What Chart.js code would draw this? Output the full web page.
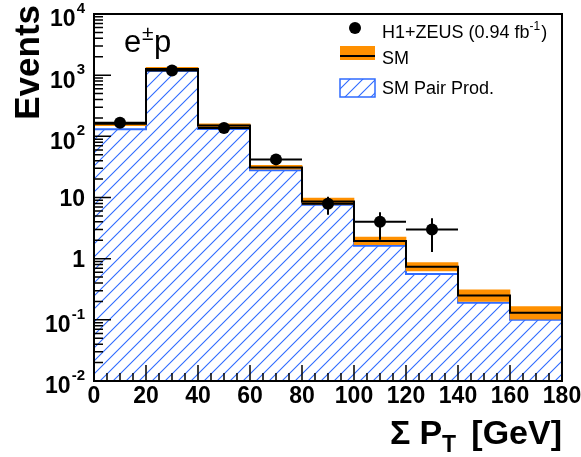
<!DOCTYPE html>
<html>
<head>
<meta charset="utf-8">
<script src="https://cdn.jsdelivr.net/npm/chart.js@4.4.1/dist/chart.umd.min.js"></script>
<style>
  html, body { margin: 0; padding: 0; background: #fff; }
</style>
</head>
<body>
<canvas id="c" width="581" height="457"></canvas>
<script>
// histogram binning (GeV)
const binEdges = [0, 20, 40, 60, 80, 100, 120, 140, 160, 180];
const binCenters = [10, 30, 50, 70, 90, 110, 130, 150, 170];

// SM total prediction and its uncertainty band
const smValues = [160, 1260, 150, 31, 8.6, 1.95, 0.74, 0.25, 0.13];
const smLow    = [150, 1190, 141, 29, 7.8, 1.70, 0.63, 0.20, 0.103];
const smHigh   = [170, 1340, 160, 33.5, 9.8, 2.25, 0.86, 0.31, 0.165];

// SM pair production component
const pairValues = [131, 1185, 132, 28, 7.6, 1.62, 0.56, 0.19, 0.10];

// H1+ZEUS data
const dataCenters = [10, 30, 50, 70, 90, 110, 130];
const dataValues  = [167, 1190, 137, 42, 7.9, 4.0, 3.0];
const dataLow     = [154, 1156, 125, 35.5, 5.2, 2.03, 1.28];
const dataHigh    = [180, 1224, 149, 48.5, 10.3, 5.75, 4.6];

// axis ticks
const xTickValues = [0, 20, 40, 60, 80, 100, 120, 140, 160, 180];
const xTickLabels = ['0', '20', '40', '60', '80', '100', '120', '140', '160', '180'];
const yDecades = [0.01, 0.1, 1, 10, 100, 1000, 10000];
const yTickLabels = [['10', '-2'], ['10', '-1'], ['1', ''], ['10', ''], ['10', '2'], ['10', '3'], ['10', '4']];

const ORANGE = '#ff9000';
const BLUE = '#2f6bff';
const FONT = 'Liberation Sans, Arial, Helvetica, sans-serif';

function stepPoints(vals) {
  return binEdges.map((x, i) => ({ x, y: vals[Math.min(i, vals.length - 1)] }));
}

function hatch(color) {
  const s = 13;
  const c = document.createElement('canvas');
  c.width = s; c.height = s;
  const g = c.getContext('2d');
  g.strokeStyle = color;
  g.lineWidth = 1.1;
  g.beginPath();
  g.moveTo(0, s); g.lineTo(s, 0);
  g.moveTo(-2, 2); g.lineTo(2, -2);
  g.moveTo(s - 2, s + 2); g.lineTo(s + 2, s - 2);
  g.stroke();
  return g.createPattern(c, 'repeat');
}

const hatchFill = hatch(BLUE);

// frame, inner ticks, error bars, labels and legend
const decorations = {
  id: 'decorations',
  afterDatasetsDraw(chart) {
    const { ctx, chartArea: a, scales: { x, y } } = chart;
    ctx.save();

    // data error bars
    ctx.strokeStyle = '#000';
    ctx.lineWidth = 2;
    dataCenters.forEach((c, i) => {
      const px = x.getPixelForValue(c);
      const py = y.getPixelForValue(dataValues[i]);
      ctx.beginPath();
      ctx.moveTo(x.getPixelForValue(c - 10), py);
      ctx.lineTo(x.getPixelForValue(c + 10), py);
      ctx.moveTo(px, y.getPixelForValue(dataLow[i]));
      ctx.lineTo(px, y.getPixelForValue(dataHigh[i]));
      ctx.stroke();
    });

    // ticks on x (major every 20, minor every 5)
    ctx.lineWidth = 1.5;
    ctx.beginPath();
    for (let v = 0; v <= 180; v += 5) {
      const px = x.getPixelForValue(v);
      const len = v % 20 === 0 ? 16 : 8;
      ctx.moveTo(px, a.bottom);
      ctx.lineTo(px, a.bottom - len);
    }
    // ticks on y (decades plus 2..9)
    yDecades.forEach((d, i) => {
      const py = y.getPixelForValue(d);
      ctx.moveTo(a.left, py);
      ctx.lineTo(a.left + 17, py);
      if (i < yDecades.length - 1) {
        for (let m = 2; m <= 9; m++) {
          const pm = y.getPixelForValue(d * m);
          ctx.moveTo(a.left, pm);
          ctx.lineTo(a.left + 9, pm);
        }
      }
    });
    ctx.stroke();

    // frame
    ctx.lineWidth = 2;
    ctx.strokeRect(a.left, a.top, a.right - a.left, a.bottom - a.top);
    ctx.restore();
  },
  afterDraw(chart) {
    const { ctx, scales: { x, y } } = chart;
    ctx.save();
    ctx.fillStyle = '#000';

    // x tick labels
    ctx.font = 'bold 23px ' + FONT;
    ctx.textAlign = 'center';
    ctx.textBaseline = 'alphabetic';
    xTickValues.forEach((v, i) => ctx.fillText(xTickLabels[i], x.getPixelForValue(v), 403));

    // y tick labels with exponents
    yDecades.forEach((d, i) => {
      const [base, exp] = yTickLabels[i];
      const py = y.getPixelForValue(d);
      ctx.font = 'bold 15px ' + FONT;
      const ew = exp ? ctx.measureText(exp).width : 0;
      const right = 85;
      ctx.textAlign = 'right';
      ctx.textBaseline = 'middle';
      if (exp) {
        ctx.fillText(exp, right, py - 5);
        ctx.font = 'bold 23px ' + FONT;
        ctx.fillText(base, right - ew - 1, py + 6);
      } else {
        ctx.font = 'bold 23px ' + FONT;
        ctx.fillText(base, right, py + 2);
      }
    });

    // y title
    ctx.save();
    ctx.translate(39, 5);
    ctx.rotate(-Math.PI / 2);
    ctx.font = 'bold 35px ' + FONT;
    ctx.textAlign = 'right';
    ctx.textBaseline = 'alphabetic';
    ctx.fillText('Events', 0, 0);
    ctx.restore();

    // x title: Σ P_T [GeV]
    ctx.textAlign = 'left';
    ctx.textBaseline = 'alphabetic';
    const big = 'bold 34px ' + FONT, small = 'bold 23px ' + FONT;
    ctx.font = big;
    const sx = 390;
    ctx.fillText('Σ', sx, 444);
    const px0 = sx + ctx.measureText('Σ').width + 9;
    ctx.fillText('P', px0, 444);
    const pw = ctx.measureText('P').width;
    ctx.font = small;
    ctx.fillText('T', px0 + pw, 452);
    ctx.font = big;
    ctx.textAlign = 'right';
    ctx.fillText('[GeV]', 562, 444);

    // e±p label
    ctx.textAlign = 'left';
    ctx.font = '31px ' + FONT;
    ctx.fillText('e', 124, 52);
    ctx.font = '21px ' + FONT;
    ctx.fillText('±', 142, 40);
    ctx.font = '31px ' + FONT;
    ctx.fillText('p', 154, 52);

    // legend
    ctx.font = '18px ' + FONT;
    ctx.textBaseline = 'middle';
    ctx.beginPath();
    ctx.arc(355, 28, 6, 0, Math.PI * 2);
    ctx.fill();
    const t1 = 'H1+ZEUS (0.94 fb';
    ctx.fillText(t1, 382, 33);
    const w1 = ctx.measureText(t1).width;
    ctx.font = '12px ' + FONT;
    ctx.fillText('-1', 382 + w1, 27);
    const w2 = ctx.measureText('-1').width;
    ctx.font = '18px ' + FONT;
    ctx.fillText(')', 383 + w1 + w2, 33);

    ctx.fillStyle = ORANGE;
    ctx.fillRect(340, 46, 35, 14);
    ctx.strokeStyle = '#000';
    ctx.lineWidth = 2;
    ctx.beginPath();
    ctx.moveTo(340, 56); ctx.lineTo(375, 56);
    ctx.stroke();
    ctx.fillStyle = '#000';
    ctx.fillText('SM', 382, 59);

    ctx.fillStyle = hatchFill;
    ctx.fillRect(340, 79, 35, 18);
    ctx.strokeStyle = BLUE;
    ctx.lineWidth = 1.5;
    ctx.strokeRect(340, 79, 35, 18);
    ctx.fillStyle = '#000';
    ctx.fillText('SM Pair Prod.', 382, 89);

    ctx.restore();
  }
};

new Chart(document.getElementById('c'), {
  type: 'line',
  data: {
    datasets: [
      {
        label: 'SM Pair Prod.',
        data: stepPoints(pairValues),
        stepped: 'before',
        borderColor: BLUE,
        borderWidth: 2,
        backgroundColor: hatchFill,
        fill: 'start',
        pointRadius: 0,
        order: 4
      },
      {
        type: 'bar',
        label: 'SM uncertainty',
        data: binCenters.map((c, i) => ({ x: c, y: [smLow[i], smHigh[i]] })),
        backgroundColor: ORANGE,
        borderWidth: 0,
        barPercentage: 1,
        categoryPercentage: 1,
        order: 3
      },
      {
        label: 'SM',
        data: stepPoints(smValues),
        stepped: 'before',
        borderColor: '#000',
        borderWidth: 2,
        fill: false,
        pointRadius: 0,
        order: 2
      },
      {
        label: 'H1+ZEUS (0.94 fb-1)',
        data: dataCenters.map((c, i) => ({ x: c, y: dataValues[i] })),
        showLine: false,
        pointRadius: 6,
        pointBackgroundColor: '#000',
        pointBorderColor: '#000',
        pointBorderWidth: 0,
        order: 1
      }
    ]
  },
  options: {
    responsive: false,
    animation: false,
    devicePixelRatio: 1,
    layout: { padding: { top: 14, right: 19, left: 0, bottom: 0 } },
    plugins: { legend: { display: false }, tooltip: { enabled: false } },
    scales: {
      x: {
        type: 'linear',
        min: 0, max: 180,
        offset: false,
        grid: { display: false, drawTicks: false },
        border: { display: false },
        ticks: { display: false, stepSize: 20 },
        afterFit(s) { s.height = 76; }
      },
      y: {
        type: 'logarithmic',
        min: 0.01, max: 10000,
        grid: { display: false, drawTicks: false },
        border: { display: false },
        ticks: { display: false },
        afterFit(s) { s.width = 94; }
      }
    }
  },
  plugins: [decorations]
});
</script>
</body>
</html>
